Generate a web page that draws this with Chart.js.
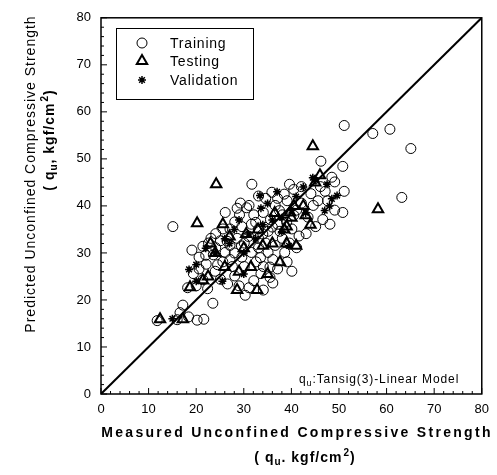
<!DOCTYPE html>
<html>
<head>
<meta charset="utf-8">
<script src="https://cdn.jsdelivr.net/npm/chart.js@4.4.1/dist/chart.umd.min.js"></script>
<style>
  html, body { margin: 0; padding: 0; background: #fff; }
</style>
</head>
<body>
<canvas id="qu_chart" width="497" height="475"></canvas>
<script>
// measured (x) / predicted (y) unconfined compressive strength, kgf/cm2
const trainingMeasured = [11.8,16.0,20.2,21.6,17.2,16.6,23.5,15.1,18.2,20.0,22.4,21.4,19.4,20.6,22.1,24.0,25.1,26.6,28.1,29.0,
  30.3,31.1,32.1,33.6,35.5,34.1,36.1,30.1,27.1,26.1,24.1,22.6,21.4,23.1,25.1,27.1,28.6,30.1,31.6,33.1,
  34.6,36.6,38.1,39.6,41.1,38.6,35.1,33.1,31.6,29.6,28.1,27.1,29.1,30.6,28.6,29.3,32.1,34.1,35.6,37.1,
  38.1,36.6,34.6,35.9,31.7,40.5,39.1,41.1,42.1,43.5,44.6,45.6,44.1,46.1,47.1,48.5,46.2,50.8,50.8,51.1,
  49.1,51.1,57.1,60.7,65.1,63.2,25.6,24.1,33.1,37.6,40.1,26.1,32.6,29.6,35.1,41.6,43.1,45.1,46.6,48.1,
  49.1,47.6,42.1,39.6,37.1,33.1,31.1,27.6,25.6,23.6,20.6,19.1,34.1,37.1,39.1,40.1,36.1,18.4,
  29.5,31.0,32.5,34.0,36.0,37.5,39.0,40.5,26.5,28.0,33.5,35.5,24.5,22.0,38.5];
const trainingPredicted = [15.6,15.8,15.7,15.9,18.9,17.3,19.3,35.6,22.6,23.0,22.4,24.3,25.6,26.6,27.6,26.1,24.4,23.4,25.1,23.0,
  21.0,22.6,24.1,25.6,24.8,27.1,28.6,27.1,28.6,30.1,31.1,32.1,31.4,33.1,32.6,31.6,33.1,32.1,30.1,31.1,
  32.1,31.6,33.1,32.1,31.1,30.1,34.6,35.1,36.1,35.6,36.6,35.1,38.1,39.6,39.5,40.6,38.1,38.6,37.1,36.1,
  38.1,40.1,41.6,42.9,44.6,43.5,41.1,39.1,40.6,37.6,40.1,41.1,42.6,44.1,43.1,46.1,49.5,48.4,38.6,43.1,
  45.1,57.1,55.4,56.3,52.2,41.8,35.1,34.1,33.1,34.6,35.1,38.6,28.1,29.1,30.1,33.6,34.1,35.6,37.1,36.1,
  39.1,41.1,44.1,44.6,41.6,42.1,40.1,27.1,28.1,29.6,29.1,30.6,22.1,26.6,28.1,26.1,23.6,16.4,
  31.5,33.5,36.5,34.0,35.5,39.0,36.5,38.0,32.5,30.0,29.0,27.0,27.5,29.5,42.5];

const testingMeasured = [12.4,17.2,18.7,21.4,20.2,25.6,24.2,28.6,32.8,37.6,44.5,58.2,24.0,27.0,30.0,34.0,36.0,38.5,40.0,41.0,
  42.5,45.0,44.0,31.5,29.0,35.0,26.0,33.0,23.0,39.0,36.5,43.0,22.5,30.5,39.0,39.7,40.5,46.0];
const testingPredicted = [15.9,15.9,22.7,24.2,36.3,36.1,44.6,22.1,22.1,28.0,52.7,39.3,30.0,33.5,31.0,31.5,32.0,35.0,37.5,31.5,
  40.0,45.0,36.0,27.0,26.0,25.5,27.0,35.0,32.0,32.0,38.5,38.0,25.0,34.0,35.6,38.6,40.0,46.5];

const validationMeasured = [15.0,18.5,20.0,22.0,26.0,28.0,30.0,32.5,34.0,36.0,38.0,40.0,41.0,43.0,45.0,44.5,47.0,48.0,38.0,35.0,
  31.0,27.0,24.0,25.5,37.0,29.0,42.5,30.0,39.5,20.0,48.5,33.4,33.6,49.6,47.5];
const validationPredicted = [16.0,26.5,27.5,31.0,33.0,35.0,30.0,33.0,36.0,37.0,37.5,39.0,42.0,38.5,45.5,46.0,39.0,40.0,34.5,40.5,
  34.0,32.0,30.0,24.0,43.0,37.0,44.0,25.5,31.5,24.0,41.5,42.2,39.5,42.2,44.6];

const lineOfEquality = [0, 80];
const tickValues = [0, 10, 20, 30, 40, 50, 60, 70, 80];

const toPoints = (xs, ys) => xs.map((x, i) => ({ x: x, y: ys[i] }));

const FONT = '"Liberation Sans", Arial, sans-serif';

// text with subscript / superscript pieces
function drawParts(ctx, parts, x, y, align) {
  let total = 0;
  parts.forEach(p => { ctx.font = p.font; total += ctx.measureText(p.text).width + (p.gap || 0); });
  let cx = align === 'center' ? x - total / 2 : x;
  ctx.textAlign = 'left';
  ctx.textBaseline = 'middle';
  parts.forEach(p => {
    ctx.font = p.font;
    ctx.fillText(p.text, cx, y + (p.dy || 0));
    cx += ctx.measureText(p.text).width + (p.gap || 0);
  });
}

function marker(ctx, style, x, y) {
  const opts = { pointStyle: style.pointStyle, radius: style.pointRadius, rotation: 0, borderWidth: style.pointBorderWidth };
  ctx.save();
  ctx.strokeStyle = '#000';
  ctx.fillStyle = 'rgba(0,0,0,0)';
  ctx.lineWidth = style.pointBorderWidth;
  Chart.helpers.drawPoint(ctx, opts, x, y);
  ctx.restore();
}

const framePlugin = {
  id: 'frame',
  afterDraw(chart) {
    const ctx = chart.ctx;
    const a = chart.chartArea;
    const xs = chart.scales.x, ys = chart.scales.y;
    ctx.save();
    ctx.strokeStyle = '#000';
    ctx.fillStyle = '#000';
    ctx.lineWidth = 1.5;
    ctx.strokeRect(a.left, a.top, a.right - a.left, a.bottom - a.top);

    // inward tick marks
    ctx.lineWidth = 1;
    ctx.beginPath();
    for (let v = 0; v <= 80; v += 2) {
      const len = v % 10 === 0 ? 6 : 3;
      const px = xs.getPixelForValue(v);
      ctx.moveTo(px, a.bottom); ctx.lineTo(px, a.bottom - len);
      const py = ys.getPixelForValue(v);
      ctx.moveTo(a.left, py); ctx.lineTo(a.left + len, py);
    }
    ctx.stroke();

    // legend box
    ctx.lineWidth = 1;
    ctx.fillStyle = '#fff';
    ctx.fillRect(116, 28, 137, 71);
    ctx.strokeRect(116.5, 28.5, 137, 71);
    ctx.fillStyle = '#000';
    ctx.letterSpacing = '0.8px';
    const rows = [43, 61, 80];
    chart.data.datasets.slice(0, 3).forEach((ds, i) => {
      marker(ctx, ds, 142, rows[i]);
      ctx.font = '14px ' + FONT;
      ctx.textAlign = 'left';
      ctx.textBaseline = 'middle';
      ctx.fillText(ds.label, 170, rows[i] + 1);
    });

    // model note
    ctx.letterSpacing = '0.9px';
    drawParts(ctx, [
      { text: 'q', font: '12px ' + FONT },
      { text: 'u', font: '9px ' + FONT, dy: 4 },
      { text: ':Tansig(3)-Linear Model', font: '12px ' + FONT }
    ], 299, 380, 'left');

    // x title
    ctx.letterSpacing = '2.3px';
    ctx.font = 'bold 14px ' + FONT;
    ctx.textAlign = 'center';
    ctx.textBaseline = 'middle';
    ctx.fillText('Measured Unconfined Compressive Strength', 297, 433);
    ctx.letterSpacing = '1px';
    drawParts(ctx, [
      { text: '( q', font: 'bold 14px ' + FONT },
      { text: 'u', font: 'bold 10px ' + FONT, dy: 4 },
      { text: '. kgf/cm', font: 'bold 14px ' + FONT, gap: 1 },
      { text: '2', font: 'bold 10px ' + FONT, dy: -5 },
      { text: ')', font: 'bold 14px ' + FONT }
    ], 305, 458, 'center');

    // y title
    ctx.translate(31, 174);
    ctx.rotate(-Math.PI / 2);
    ctx.letterSpacing = '1px';
    ctx.font = '14px ' + FONT;
    ctx.textAlign = 'center';
    ctx.fillText('Predicted Unconfined Compressive Strength', 0, 0);
    drawParts(ctx, [
      { text: '( q', font: 'bold 14px ' + FONT },
      { text: 'u', font: 'bold 10px ' + FONT, dy: 4 },
      { text: ', kgf/cm', font: 'bold 14px ' + FONT, gap: 1 },
      { text: '2', font: 'bold 10px ' + FONT, dy: -5 },
      { text: ')', font: 'bold 14px ' + FONT }
    ], 34, 19, 'center');
    ctx.restore();
  }
};

const tickFont = { family: FONT, size: 13 };

new Chart(document.getElementById('qu_chart').getContext('2d'), {
  type: 'scatter',
  data: {
    datasets: [{
      label: 'Training',
      data: toPoints(trainingMeasured, trainingPredicted),
      pointStyle: 'circle',
      pointRadius: 5,
      pointBorderWidth: 1,
      borderColor: '#000',
      backgroundColor: 'rgba(0,0,0,0)'
    }, {
      label: 'Testing',
      data: toPoints(testingMeasured, testingPredicted),
      pointStyle: 'triangle',
      pointRadius: 6,
      pointBorderWidth: 2,
      borderColor: '#000',
      backgroundColor: 'rgba(0,0,0,0)'
    }, {
      label: 'Validation',
      data: toPoints(validationMeasured, validationPredicted),
      pointStyle: 'star',
      pointRadius: 4,
      pointBorderWidth: 1.5,
      borderColor: '#000',
      backgroundColor: 'rgba(0,0,0,0)'
    }, {
      type: 'line',
      label: '1:1',
      data: toPoints(lineOfEquality, lineOfEquality),
      borderColor: '#000',
      borderWidth: 2,
      pointRadius: 0,
      fill: false
    }]
  },
  options: {
    responsive: false,
    animation: false,
    devicePixelRatio: 1,
    layout: { padding: { top: 17, right: 15, left: 0, bottom: 0 } },
    plugins: {
      legend: { display: false },
      tooltip: { enabled: false }
    },
    scales: {
      x: {
        type: 'linear',
        min: 0,
        max: 80,
        afterBuildTicks: s => { s.ticks = tickValues.map(v => ({ value: v })); },
        afterFit: s => { s.height = 81; },
        grid: { display: false, drawTicks: false },
        border: { display: false },
        ticks: { color: '#000', font: tickFont, padding: 8 }
      },
      y: {
        type: 'linear',
        min: 0,
        max: 80,
        afterBuildTicks: s => { s.ticks = tickValues.map(v => ({ value: v })); },
        afterFit: s => { s.width = 101; },
        grid: { display: false, drawTicks: false },
        border: { display: false },
        ticks: { color: '#000', font: tickFont, padding: 10 }
      }
    }
  },
  plugins: [framePlugin]
});
</script>
</body>
</html>
